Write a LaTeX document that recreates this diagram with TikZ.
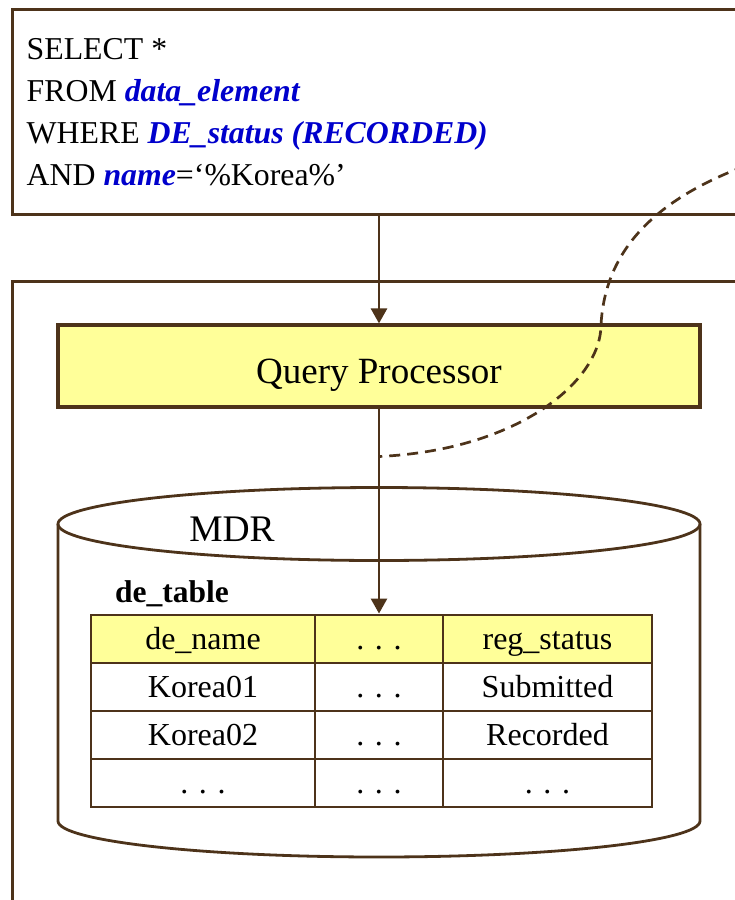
\documentclass[tikz,border=0pt]{standalone}
\usepackage{fontspec}
\setmainfont{Liberation Serif}
\usetikzlibrary{arrows.meta}
\definecolor{brd}{RGB}{77,51,26}
\definecolor{yel}{RGB}{255,255,153}
\definecolor{blu}{RGB}{0,0,204}
\newcommand\kw[1]{\textcolor{blu}{\bfseries\itshape #1}}
\begin{document}
\begin{tikzpicture}[x=1pt,y=-1pt,
  frame/.style={draw=brd,line width=3pt,inner sep=0pt,anchor=north west},
  conn/.style={draw=brd,line width=2.7pt,-{Triangle[length=15pt,width=16pt]}},
  dashconn/.style={draw=brd,line width=2.7pt,dash pattern=on 11pt off 7pt},
  sqltxt/.style={anchor=base west,inner sep=0pt,font=\fontsize{31.8}{42}\selectfont},
  qpbox/.style={draw=brd,fill=yel,line width=3.2pt,inner sep=0pt,minimum width=642pt,minimum height=82pt,
    text height=34pt,text depth=0pt,font=\fontsize{37}{42}\selectfont},
  cyl/.style={draw=brd,line width=2.8pt},
  cell/.style={draw=brd,line width=2.9pt,inner sep=0pt,minimum width=#1,minimum height=48pt,
    text height=21pt,text depth=0pt,font=\fontsize{32}{36}\selectfont},
  hcell/.style={cell=#1,fill=yel},
  lbl/.style={inner sep=0pt,font=\fontsize{37.5}{42}\selectfont}
]
\useasboundingbox (0,0) rectangle (734,900);
\fill[white] (0,0) rectangle (734,900);

% frames (open towards the right / bottom edge)
\node[frame,minimum width=900pt,minimum height=205pt] (sqlbox) at (10.5,8) {};
\node[frame,minimum width=900pt,minimum height=800pt] (sysbox) at (10.5,280) {};

% SQL text
\node[sqltxt] (s1) at (26.5,59) {SELECT *};
\node[sqltxt] (s2) at (26.5,101) {FROM \kw{data\_element}};
\node[sqltxt] (s3) at (26.5,143) {WHERE \kw{DE\_status (RECORDED)}};
\node[sqltxt] (s4) at (26.5,185) {AND \kw{name}=‘\%Korea\%’};

% query processor
\node[qpbox] (qp) at (379,366) {Query Processor};

% cylinder (MDR)
\draw[cyl] (58,524) -- (58,821) arc[start angle=180,end angle=0,x radius=321,y radius=36] -- (700,524);
\draw[cyl] (379,524) ellipse [x radius=321,y radius=36.5];
\node[lbl,anchor=base] (mdr) at (232,541) {MDR};

% table
\node[inner sep=0pt,anchor=base west,font=\fontsize{31.5}{36}\selectfont\bfseries] (tname) at (115,602) {de\_table};
\node[hcell=224pt] (h1) at (203,639) {de\_name};
\node[hcell=128pt] (h2) at (379,639) {. . .};
\node[hcell=209pt] (h3) at (547.5,639) {reg\_status};
\node[cell=224pt] (a1) at (203,687) {Korea01};
\node[cell=128pt] (a2) at (379,687) {. . .};
\node[cell=209pt] (a3) at (547.5,687) {Submitted};
\node[cell=224pt] (b1) at (203,735) {Korea02};
\node[cell=128pt] (b2) at (379,735) {. . .};
\node[cell=209pt] (b3) at (547.5,735) {Recorded};
\node[cell=224pt] (c1) at (203,783) {. . .};
\node[cell=128pt] (c2) at (379,783) {. . .};
\node[cell=209pt] (c3) at (547.5,783) {. . .};

% connectors
\coordinate (tap) at (379,456.5);
\coordinate (dstart) at (745,166);
\draw[conn] (sqlbox.south -| qp.north) -- (qp.north);
\draw[conn] (qp.south) -- (h2.north);
\draw[dashconn] (dstart) .. controls (655,200) and (605,250) .. (601,325)
  .. controls (601,380) and (520,450) .. (tap);
\end{tikzpicture}
\end{document}
